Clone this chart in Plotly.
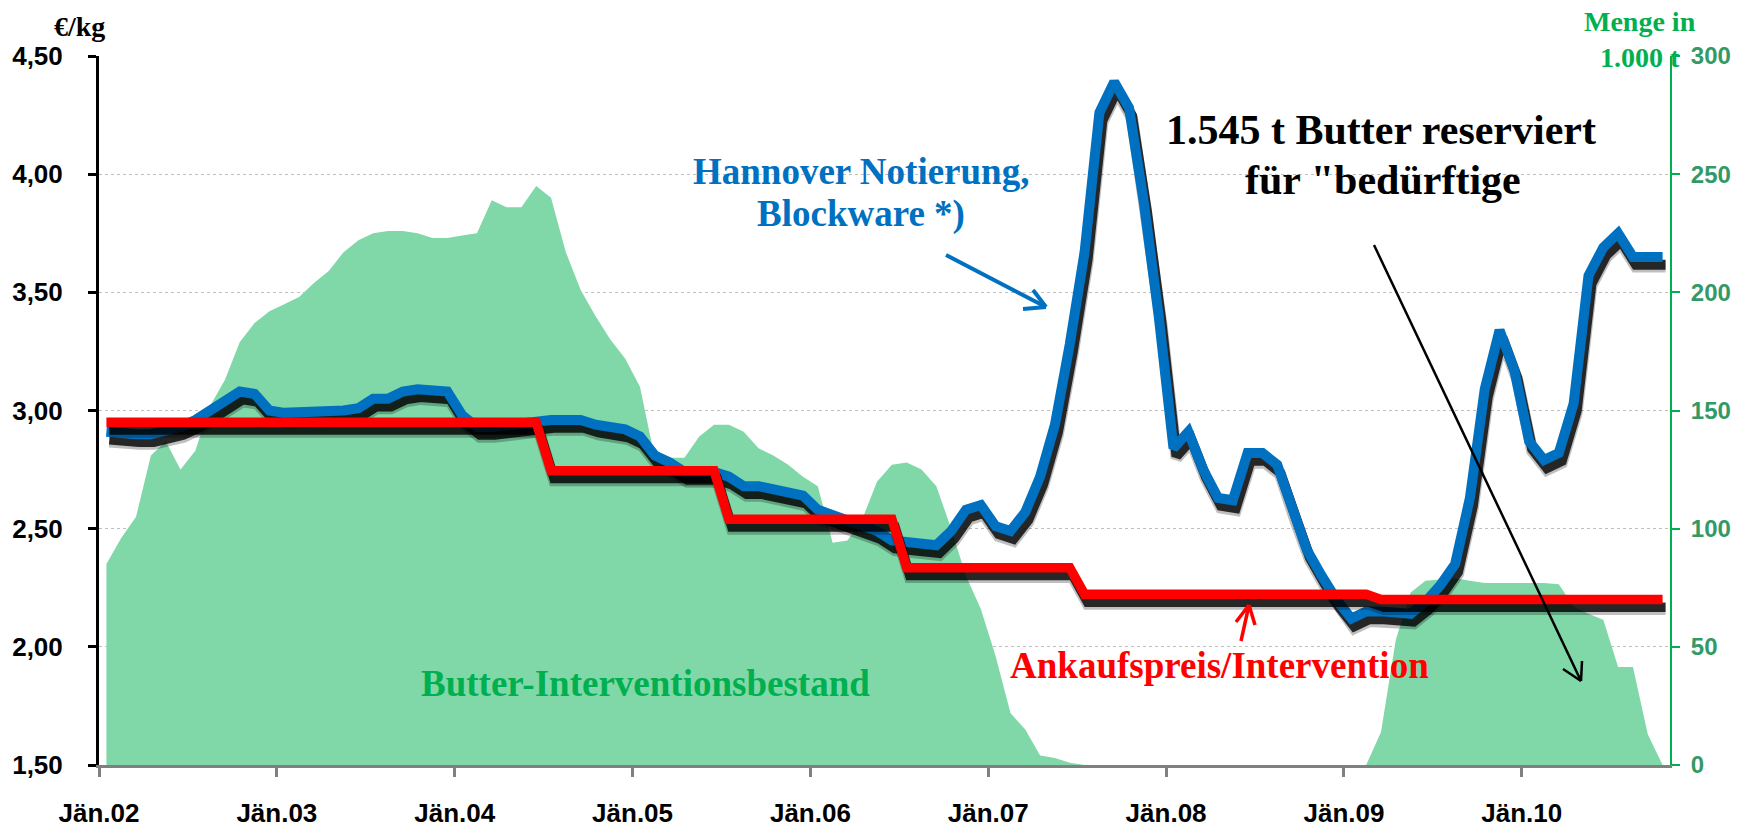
import plotly.graph_objects as go
import numpy as np

# ---------------- data (monthly, Jän.02 .. Okt.10) ----------------
year_labels = ["Jän.02", "Jän.03", "Jän.04", "Jän.05", "Jän.06",
               "Jän.07", "Jän.08", "Jän.09", "Jän.10"]

# Hannover Notierung, Blockware (€/kg)
hannover = [2.91, 2.90, 2.90, 2.90, 2.91, 2.93, 2.96, 3.00, 3.05, 3.08, 3.07, 3.00,
            2.99, 2.99, 2.99, 2.99, 3.00, 3.01, 3.05, 3.05, 3.08, 3.09, 3.09, 3.08,
            2.98, 2.93, 2.93, 2.94, 2.94, 2.96, 2.96, 2.96, 2.96, 2.94, 2.93, 2.92,
            2.89, 2.81, 2.78, 2.74, 2.74, 2.74, 2.72, 2.68, 2.68, 2.67, 2.65, 2.64,
            2.58, 2.56, 2.54, 2.52, 2.49, 2.45, 2.44, 2.43, 2.43, 2.49, 2.58, 2.60,
            2.51, 2.49, 2.57, 2.72, 2.94, 3.28, 3.67, 4.26, 4.39, 4.28, 3.88, 3.40,
            2.84, 2.91, 2.75, 2.63, 2.62, 2.82, 2.82, 2.77, 2.58, 2.41, 2.30, 2.20,
            2.12, 2.15, 2.15, 2.15, 2.14, 2.19, 2.26, 2.35, 2.63, 3.09, 3.34, 3.17,
            2.87, 2.79, 2.82, 3.03, 3.57, 3.69, 3.75, 3.65, 3.65, 3.65]

# Ankaufspreis / Intervention (€/kg)
ankauf = [2.95, 2.95, 2.95, 2.95, 2.95, 2.95, 2.95, 2.95, 2.95, 2.95, 2.95, 2.95,
          2.95, 2.95, 2.95, 2.95, 2.95, 2.95, 2.95, 2.95, 2.95, 2.95, 2.95, 2.95,
          2.95, 2.95, 2.95, 2.95, 2.95, 2.95, 2.745, 2.745, 2.745, 2.745, 2.745, 2.745,
          2.745, 2.745, 2.745, 2.745, 2.745, 2.745, 2.54, 2.54, 2.54, 2.54, 2.54, 2.54,
          2.54, 2.54, 2.54, 2.54, 2.54, 2.54, 2.335, 2.335, 2.335, 2.335, 2.335, 2.335,
          2.335, 2.335, 2.335, 2.335, 2.335, 2.335, 2.222, 2.222, 2.222, 2.222, 2.222, 2.222,
          2.222, 2.222, 2.222, 2.222, 2.222, 2.222, 2.222, 2.222, 2.222, 2.222, 2.222, 2.222,
          2.222, 2.222, 2.20, 2.20, 2.20, 2.20, 2.20, 2.20, 2.20, 2.20, 2.20, 2.20,
          2.20, 2.20, 2.20, 2.20, 2.20, 2.20, 2.20, 2.20, 2.20, 2.20]

# Butter-Interventionsbestand (1.000 t)
bestand = [85, 96, 105, 131, 137, 125, 133, 152, 163, 179, 187, 192,
           195, 198, 204, 209, 217, 222, 225, 226, 226, 225, 223, 223,
           224, 225, 239, 236, 236, 245, 240, 217, 201, 190, 180, 172,
           160, 130, 130, 130, 139, 144, 144, 141, 134, 131, 127, 122,
           118, 94, 95, 104, 120, 127, 128, 125, 118, 100, 80, 66,
           46, 22, 15, 4, 3, 1, 0, 0, 0, 0, 0, 0,
           0, 0, 0, 0, 0, 0, 0, 0, 0, 0, 0, 0,
           0, 0, 14, 53, 73, 78, 78.5, 79, 78, 77, 77, 77,
           77, 77, 76.5, 67, 64, 61.5, 41.5, 41.5, 13, 0]

n = len(hannover)
x = np.arange(n)

# ---------------- layout geometry (px) ----------------
W, H = 1752, 829
L, R, T, B = 99, 1670, 56, 765


def px(X):
    return (X - L) / (R - L)


def py(Y):
    return (B - Y) / (B - T)


SERIF = "Liberation Serif, Times New Roman, serif"
SANS = "Liberation Sans, Arial, sans-serif"

fig = go.Figure()

# green area (primary y = right axis)
fig.add_trace(go.Scatter(x=x, y=bestand, mode="lines", yaxis="y",
                         line=dict(width=0, color="rgba(0,0,0,0)"),
                         fill="tozeroy", fillcolor="#80D8A8",
                         hoverinfo="skip", showlegend=False))

shadow_dy = 0.033
shadow_dx = 0.2
for vals, col, wd in [(hannover, "#0070C0", 10), (ankauf, "#FF0000", 9.5)]:
    sv = np.array(vals) - shadow_dy
    fig.add_trace(go.Scatter(x=x + shadow_dx, y=sv - 0.008, mode="lines", yaxis="y2",
                             line=dict(color="rgba(0,0,0,0.25)", width=wd + 2),
                             hoverinfo="skip", showlegend=False))
    fig.add_trace(go.Scatter(x=x + shadow_dx, y=sv, mode="lines", yaxis="y2",
                             line=dict(color="rgba(0,0,0,0.8)", width=wd),
                             hoverinfo="skip", showlegend=False))
    fig.add_trace(go.Scatter(x=x, y=vals, mode="lines", yaxis="y2",
                             line=dict(color=col, width=wd),
                             showlegend=False))

tickvals = [i * 12 - 0.5 for i in range(len(year_labels))]

fig.update_layout(
    width=W, height=H,
    margin=dict(l=L, r=W - R, t=T, b=H - B, pad=0, autoexpand=False),
    paper_bgcolor="white", plot_bgcolor="white",
    separators=",.",
    showlegend=False,
    xaxis=dict(range=[-0.5, n - 0.5], tickvals=tickvals, ticktext=year_labels,
               showgrid=False, zeroline=False, showline=True, automargin=False,
               linecolor="#808080", linewidth=3,
               ticks="outside", ticklen=9, tickwidth=3, tickcolor="#808080",
               ticklabelstandoff=14,
               tickfont=dict(family=SANS, size=26, color="black", weight="bold")),
    yaxis=dict(range=[0, 300], dtick=50, side="right", automargin=False,
               showgrid=True, gridcolor="#BFBFBF", griddash="dot", gridwidth=1,
               zeroline=False, showline=True, linecolor="#00B050", linewidth=2,
               ticks="outside", ticklen=8, tickwidth=2, tickcolor="#00B050",
               ticklabelstandoff=6,
               tickfont=dict(family=SANS, size=24, color="#339966", weight="bold")),
    yaxis2=dict(range=[1.5, 4.5], dtick=0.5, tickformat=".2f", side="left",
                overlaying="y", showgrid=False, zeroline=False, automargin=False,
                showline=True, linecolor="black", linewidth=3,
                ticks="outside", ticklen=8, tickwidth=3, tickcolor="black",
                ticklabelstandoff=20,
                tickfont=dict(family=SANS, size=26, color="black", weight="bold")),
)


def note(text, X, Y, size, color):
    fig.add_annotation(x=px(X), y=py(Y), xref="paper", yref="paper",
                       text="<b>" + text + "</b>", showarrow=False,
                       xanchor="center", yanchor="middle",
                       font=dict(family=SERIF, size=size, color=color))


note("€/kg", 79, 26, 28, "black")
note("Menge in<br>1.000 t", 1640, 39, 28, "#00B050")
note("Hannover Notierung,", 861, 172, 37, "#0070C0")
note("Blockware *)", 861, 214, 37, "#0070C0")
note("1.545 t Butter reserviert", 1381, 130, 42, "black")
note("für \"bedürftige", 1383, 180, 42, "black")
note("Butter-Interventionsbestand", 645, 683, 37, "#00B050")
note("Ankaufspreis/Intervention", 1219, 665, 37, "#FF0000")


def arrow(x0, y0, x1, y1, wings, color, width):
    pts = [((x0, y0), (x1, y1))] + [((wx, wy), (x1, y1)) for wx, wy in wings]
    for (a, b), (c, d) in pts:
        fig.add_shape(type="line", xref="paper", yref="paper",
                      x0=px(a), y0=py(b), x1=px(c), y1=py(d),
                      line=dict(color=color, width=width))


arrow(946, 255, 1046, 307, [(1023, 309), (1033, 290)], "#0070C0", 4)
arrow(1241, 641, 1249, 605, [(1236, 622), (1255, 625)], "#FF0000", 3.5)
arrow(1374, 245, 1581, 681, [(1563, 669), (1582, 661)], "black", 2.5)

fig.write_html("out.html", config={"displayModeBar": False},
               post_script="document.body.style.margin='0';")
